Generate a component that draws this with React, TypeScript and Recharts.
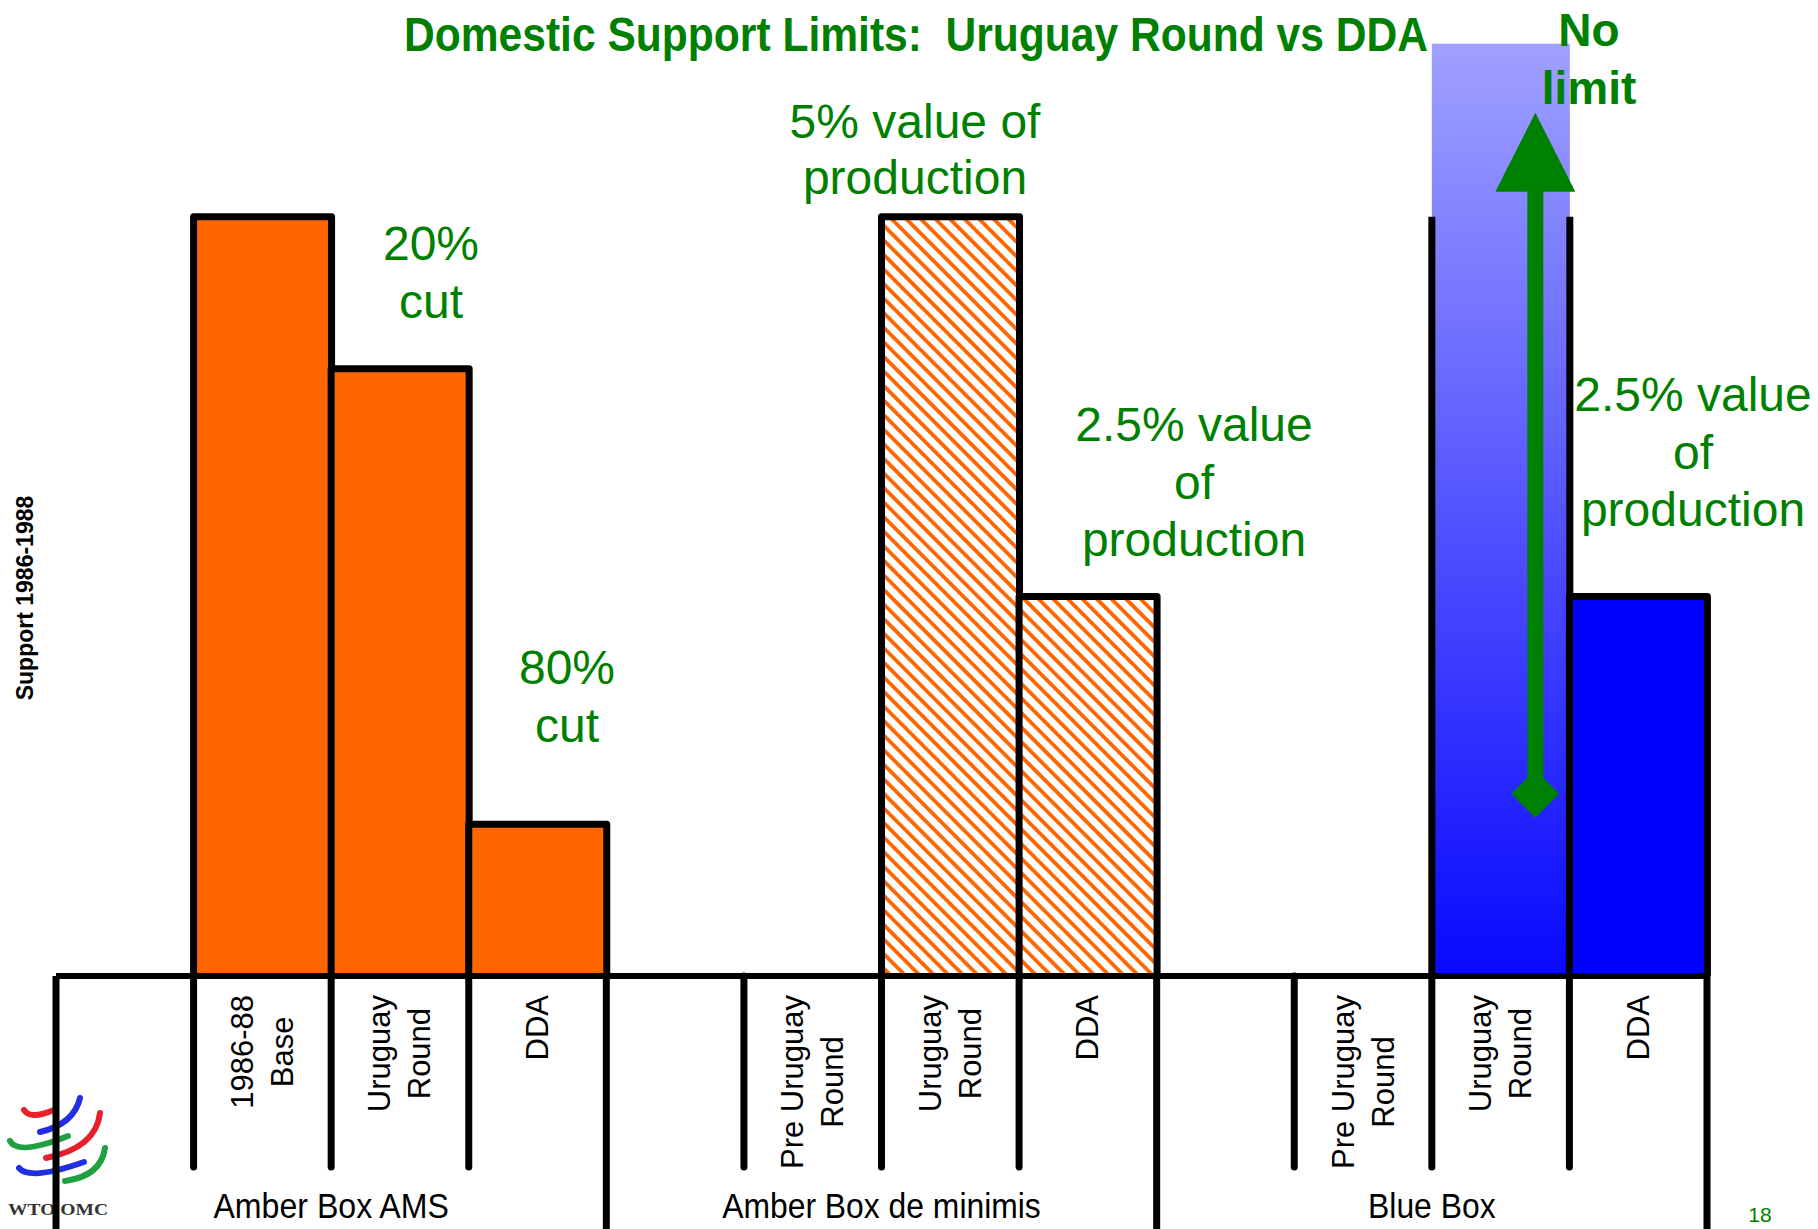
import React from "react";
import { Bar, BarChart, XAxis, YAxis } from "recharts";

// slide data: one slot per column, four slots per box (first slot of each box is empty)
const categoryKeys = [
  "ams-gap", "ams-base", "ams-ur", "ams-dda",
  "dm-gap", "dm-pre", "dm-ur", "dm-dda",
  "bb-gap", "bb-pre", "bb-ur", "bb-dda",
];
const categoryLabels = [
  "", "1986-88\nBase", "Uruguay\nRound", "DDA",
  "", "Pre Uruguay\nRound", "Uruguay\nRound", "DDA",
  "", "Pre Uruguay\nRound", "Uruguay\nRound", "DDA",
];
// support relative to 1986-88 base = 100
const supportLevels = [0, 100, 80, 20, 0, 0, 100, 50, 0, 0, 122.8, 50];
const groupLabels = ["Amber Box AMS", "Amber Box de minimis", "Blue Box"];

// blue box "no limit" bar: black edges only up to base level, arrow from 24 up to 113.7
const noLimitEdgeLevel = 100;
const noLimitArrow = [24, 113.7];

const W = 1818;
const H = 1229;
const MARGIN = { top: 27, right: 111, bottom: 0, left: 56 };
const AXIS_H = 253;
const PLOT_W = W - MARGIN.left - MARGIN.right;
const BAND = PLOT_W / categoryKeys.length;

const GREEN = "#008000";
const ORANGE = "#FF6600";
const FONT = '"Liberation Sans", Arial, Helvetica, sans-serif';
const LINE_W = 7;

const BAR_KIND: Record<string, string> = {
  "ams-base": "solid",
  "ams-ur": "solid",
  "ams-dda": "solid",
  "dm-ur": "hatch",
  "dm-dda": "hatch",
  "bb-ur": "nolimit",
  "bb-dda": "blue",
};

const data = categoryKeys.map((key, i) => ({ key, value: supportLevels[i] }));

let measureCtx: CanvasRenderingContext2D | null = null;
function textWidth(text: string, font: string) {
  if (!measureCtx) measureCtx = document.createElement("canvas").getContext("2d");
  if (!measureCtx) return text.length * 16;
  measureCtx.font = font;
  return measureCtx.measureText(text).width;
}

function CategoryTick(props: any) {
  const { x, y, payload } = props;
  const index: number = props.index ?? payload.index;
  const last = categoryKeys.length - 1;
  const left = x - BAND / 2;
  const right = x + BAND / 2;
  const boxStart = index % 4 === 0;
  const lines = categoryLabels[index] ? categoryLabels[index].split("\n") : [];
  const longest = Math.max(0, ...lines.map((l) => textWidth(l, `31px ${FONT}`)));
  const labelCenter = y + 19 + longest / 2;

  return (
    <g>
      <line
        x1={left}
        y1={y}
        x2={left}
        y2={boxStart ? H : y + 191}
        stroke="#000"
        strokeWidth={LINE_W}
        strokeLinecap={boxStart ? "butt" : "round"}
      />
      {index === last && (
        <line x1={right} y1={y} x2={right} y2={H} stroke="#000" strokeWidth={LINE_W} />
      )}
      {lines.map((line, i) => (
        <text
          key={i}
          transform={`translate(${x + (i - (lines.length - 1) / 2) * 40},${labelCenter}) rotate(-90)`}
          textAnchor="middle"
          dominantBaseline="central"
          fontFamily={FONT}
          fontSize={31}
          fill="#000"
        >
          {line}
        </text>
      ))}
      {index % 4 === 1 && (
        <text
          x={right}
          y={y + 242}
          textAnchor="middle"
          fontFamily={FONT}
          fontSize={35}
          fill="#000"
          textLength={textWidth(groupLabels[(index - 1) / 4], `35px ${FONT}`) * 0.91}
          lengthAdjust="spacingAndGlyphs"
        >
          {groupLabels[(index - 1) / 4]}
        </text>
      )}
    </g>
  );
}

function SupportBar(props: any) {
  const { x, y, width, height, payload } = props;
  if (!height || height <= 0) return <g />;
  const kind = BAR_KIND[payload.key];
  const bottom = y + height;
  const perUnit = height / payload.value;

  if (kind === "nolimit") {
    const edgeTop = bottom - noLimitEdgeLevel * perUnit;
    const yFrom = bottom - noLimitArrow[0] * perUnit;
    const yTip = bottom - noLimitArrow[1] * perUnit;
    const ax = x + width * 0.75;
    const head = 79;
    return (
      <g>
        <rect x={x} y={y} width={width} height={height} fill="url(#noLimitFill)" />
        <path
          d={`M${x},${edgeTop} V${bottom} M${x + width},${edgeTop} V${bottom}`}
          stroke="#000"
          strokeWidth={LINE_W}
        />
        <rect x={ax - 8} y={yTip + head - 1} width={16} height={yFrom - yTip - head} fill={GREEN} />
        <polygon points={`${ax},${yTip} ${ax + 40},${yTip + head} ${ax - 40},${yTip + head}`} fill={GREEN} />
        <polygon
          points={`${ax},${yFrom - 24} ${ax + 24},${yFrom} ${ax},${yFrom + 24} ${ax - 24},${yFrom}`}
          fill={GREEN}
        />
      </g>
    );
  }

  const fill = kind === "hatch" ? "url(#deMinimisHatch)" : kind === "blue" ? "#0000FF" : ORANGE;
  return (
    <path
      d={`M${x},${bottom} V${y} H${x + width} V${bottom}`}
      fill={fill}
      stroke="#000"
      strokeWidth={LINE_W}
      strokeLinejoin="round"
    />
  );
}

function MultiLine({ x, y, lines, size = 48, weight = "normal", gap = 57.5 }: any) {
  return (
    <text x={x} y={y} textAnchor="middle" fontFamily={FONT} fontSize={size} fontWeight={weight} fill={GREEN}>
      {lines.map((l: string, i: number) => (
        <tspan key={i} x={x} y={y + i * gap}>
          {l}
        </tspan>
      ))}
    </text>
  );
}

function WtoLogo() {
  const arc = (d: string, c: string) => (
    <path d={d} fill="none" stroke={c} strokeWidth={6} strokeLinecap="round" />
  );
  return (
    <g>
      {arc("M24,1110 Q30,1120 54,1110", "#E8202A")}
      {arc("M40,1132 Q74,1124 80,1098", "#2030E0")}
      {arc("M10,1141 Q18,1156 68,1136", "#20A040")}
      {arc("M46,1158 Q96,1148 100,1113", "#E8202A")}
      {arc("M19,1168 Q30,1181 84,1162", "#2030E0")}
      {arc("M65,1181 Q101,1176 105,1148", "#20A040")}
      <text
        x={8}
        y={1215}
        fontFamily='"Liberation Serif", "Times New Roman", serif'
        fontWeight="bold"
        fontSize={17}
        fill="#333"
        textLength={100}
        lengthAdjust="spacingAndGlyphs"
      >
        WTO OMC
      </text>
    </g>
  );
}

export default function App() {
  const title = "Domestic Support Limits:  Uruguay Round vs DDA";
  return (
    <div style={{ position: "absolute", left: 0, top: 0, width: W, height: H, background: "#fff" }}>
      <svg width={W} height={H} style={{ position: "absolute", left: 0, top: 0 }}>
        <WtoLogo />
      </svg>
      <div style={{ position: "absolute", left: 0, top: 0 }}>
        <BarChart width={W} height={H} data={data} margin={MARGIN} barCategoryGap={0} barGap={0}>
          <defs>
            <pattern
              id="deMinimisHatch"
              patternUnits="userSpaceOnUse"
              width={10.3}
              height={10.3}
              patternTransform="rotate(-45)"
            >
              <rect width={10.3} height={10.3} fill="#fff" />
              <rect width={3.8} height={10.3} fill={ORANGE} />
            </pattern>
            <linearGradient id="noLimitFill" x1="0" y1="0" x2="0" y2="1">
              <stop offset="0%" stopColor="#A0A0FF" />
              <stop offset="100%" stopColor="#0808FF" />
            </linearGradient>
          </defs>
          <XAxis
            dataKey="key"
            height={AXIS_H}
            interval={0}
            tickLine={false}
            tickSize={0}
            tickMargin={0}
            axisLine={{ stroke: "#000", strokeWidth: 6 }}
            tick={<CategoryTick />}
          />
          <YAxis hide type="number" domain={[0, 125]} />
          <Bar dataKey="value" shape={<SupportBar />} isAnimationActive={false} />
        </BarChart>
      </div>
      <svg width={W} height={H} style={{ position: "absolute", left: 0, top: 0, pointerEvents: "none" }}>
        <text
          x={404}
          y={51}
          fontFamily={FONT}
          fontSize={48}
          fontWeight="bold"
          fill={GREEN}
          textLength={1024}
          lengthAdjust="spacingAndGlyphs"
          style={{ whiteSpace: "pre" }}
        >
          {title}
        </text>
        <text
          transform="translate(25,598) rotate(-90)"
          textAnchor="middle"
          dominantBaseline="central"
          fontFamily={FONT}
          fontSize={23}
          fontWeight="bold"
          fill="#000"
        >
          Support 1986-1988
        </text>
        <MultiLine x={431} y={260} lines={["20%", "cut"]} />
        <MultiLine x={567} y={684} lines={["80%", "cut"]} />
        <MultiLine x={915} y={138} lines={["5% value of", "production"]} gap={56} />
        <MultiLine x={1194} y={441} lines={["2.5% value", "of", "production"]} />
        <MultiLine x={1693} y={411} lines={["2.5% value", "of", "production"]} />
        <MultiLine x={1589} y={46} lines={["No", "limit"]} size={46} weight="bold" gap={58} />
        <text x={1760} y={1222} textAnchor="middle" fontFamily={FONT} fontSize={21} fill={GREEN}>
          18
        </text>
      </svg>
    </div>
  );
}
